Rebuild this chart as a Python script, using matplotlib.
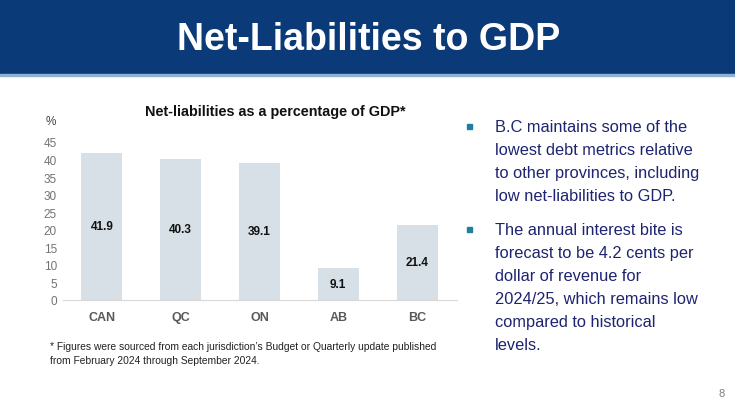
import matplotlib.pyplot as plt
from matplotlib.patches import Rectangle

plt.rcParams['font.family'] = ['Liberation Sans', 'DejaVu Sans']

# data
regions = ['CAN', 'QC', 'ON', 'AB', 'BC']
net_liab = [41.9, 40.3, 39.1, 9.1, 21.4]
yticks = [0, 5, 10, 15, 20, 25, 30, 35, 40, 45]

bullets = [
    ['B.C maintains some of the', 'lowest debt metrics relative',
     'to other provinces, including', 'low net-liabilities to GDP.'],
    ['The annual interest bite is', 'forecast to be 4.2 cents per',
     'dollar of revenue for', '2024/25, which remains low',
     'compared to historical', 'levels.'],
]

W, H = 735, 410
navy = '#0B3A78'
text_navy = '#1E2470'
bar_col = '#D6E0E6'

fig = plt.figure(figsize=(W / 100, H / 100), dpi=100)

def px(x, y):
    return x / W, 1 - y / H

# header band
fig.patches.append(Rectangle((0, 1 - 75 / H), 1, 75 / H, transform=fig.transFigure,
                             color=navy, zorder=0))
fig.patches.append(Rectangle((0, 1 - 77 / H), 1, 2 / H, transform=fig.transFigure,
                             color='#8FB0D8', zorder=0))
fig.text(*px(369, 40), 'Net-Liabilities to GDP', color='white', fontsize=27,
         fontweight='bold', ha='center', va='center')

# chart
ax = fig.add_axes([62.5 / W, (H - 301) / H, 394 / W, 158 / H])
x = range(len(regions))
bars = ax.bar(x, net_liab, width=0.52, color=bar_col, zorder=2)
for xi, v in zip(x, net_liab):
    ax.text(xi, v / 2, f'{v}', ha='center', va='center', fontsize=8.5,
            fontweight='bold', color='#111111')
ax.set_xlim(-0.5, len(regions) - 0.5)
ax.set_ylim(0, 45)
ax.set_yticks(yticks)
ax.set_xticks(list(x))
ax.set_xticklabels(regions, fontsize=9, fontweight='bold', color='#595959')
ax.tick_params(axis='y', length=0, pad=4, labelsize=8.5, labelcolor='#737373')
ax.tick_params(axis='x', length=0, pad=8)
for s in ['top', 'right', 'left']:
    ax.spines[s].set_visible(False)
ax.spines['bottom'].set_color('#D9D9D9')
ax.set_facecolor('none')

fig.text(*px(275, 112), 'Net-liabilities as a percentage of GDP*', fontsize=10.4,
         fontweight='bold', ha='center', va='center', color='#111111')
fig.text(*px(51, 122), '%', fontsize=8.5, ha='center', va='center', color='#404040')

# footnote
fig.text(*px(50, 347), "* Figures were sourced from each jurisdiction\u2019s Budget or Quarterly update published",
         fontsize=7.4, ha='left', va='center', color='#222222')
fig.text(*px(50, 361), 'from February 2024 through September 2024.',
         fontsize=7.4, ha='left', va='center', color='#222222')

# bullets
y = 127
for lines in bullets:
    fig.patches.append(Rectangle((467 / W, 1 - (y + 2.5) / H), 5 / W, 5 / H,
                                 transform=fig.transFigure, color='#1F7FA0'))
    for ln in lines:
        fig.text(*px(495, y), ln, fontsize=11.8, ha='left', va='center', color=text_navy)
        y += 23.1
    y += 11

fig.text(*px(722, 394), '8', fontsize=8, ha='center', va='center', color='#7F7F7F')

fig.savefig('out.png', dpi=100)
